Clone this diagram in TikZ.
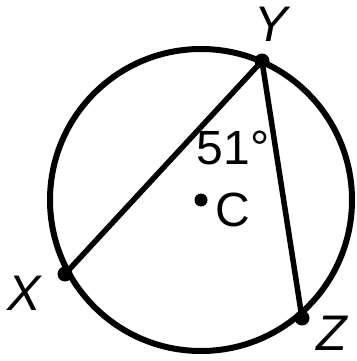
\documentclass[tikz,border=0pt]{standalone}
\usepackage{fontspec}
\setmainfont{Liberation Sans}
\usepackage{tikz}
\usetikzlibrary{positioning}

\begin{document}
\begin{tikzpicture}[
    x=1pt, y=-1pt,
    rim/.style={line width=6pt},
    chord/.style={line width=5.5pt},
    pt/.style={circle, fill, inner sep=0pt, minimum size=15pt},
    lbl/.style={font=\fontsize{50}{50}\selectfont\itshape, inner sep=0pt},
    ctr/.style={font=\fontsize{48}{48}\selectfont, inner sep=0pt}
]
\useasboundingbox (0,0) rectangle (356,361);

% Circle
\coordinate (C) at (201,200);
\draw[rim] (C) circle (151);

% Points on the circle
\node[pt] (Y) at (262,61) {};
\node[pt] (X) at (65,274) {};
\node[pt] (Z) at (302,318) {};
\node[pt, minimum size=13pt] (Cdot) at (C) {};

% Chords
\draw[chord] (Y.center) -- (X.center);
\draw[chord] (Y.center) -- (Z.center);

% Labels
\node[lbl] (ylbl) at (271,24) {Y};
\node[lbl] (xlbl) at (24,293) {X};
\node[lbl] (zlbl) at (332,333) {Z};
\node[ctr] (clbl) at (233,210) {C};
\node[ctr] (ang) at (233,148) {51°};

\end{tikzpicture}
\end{document}
